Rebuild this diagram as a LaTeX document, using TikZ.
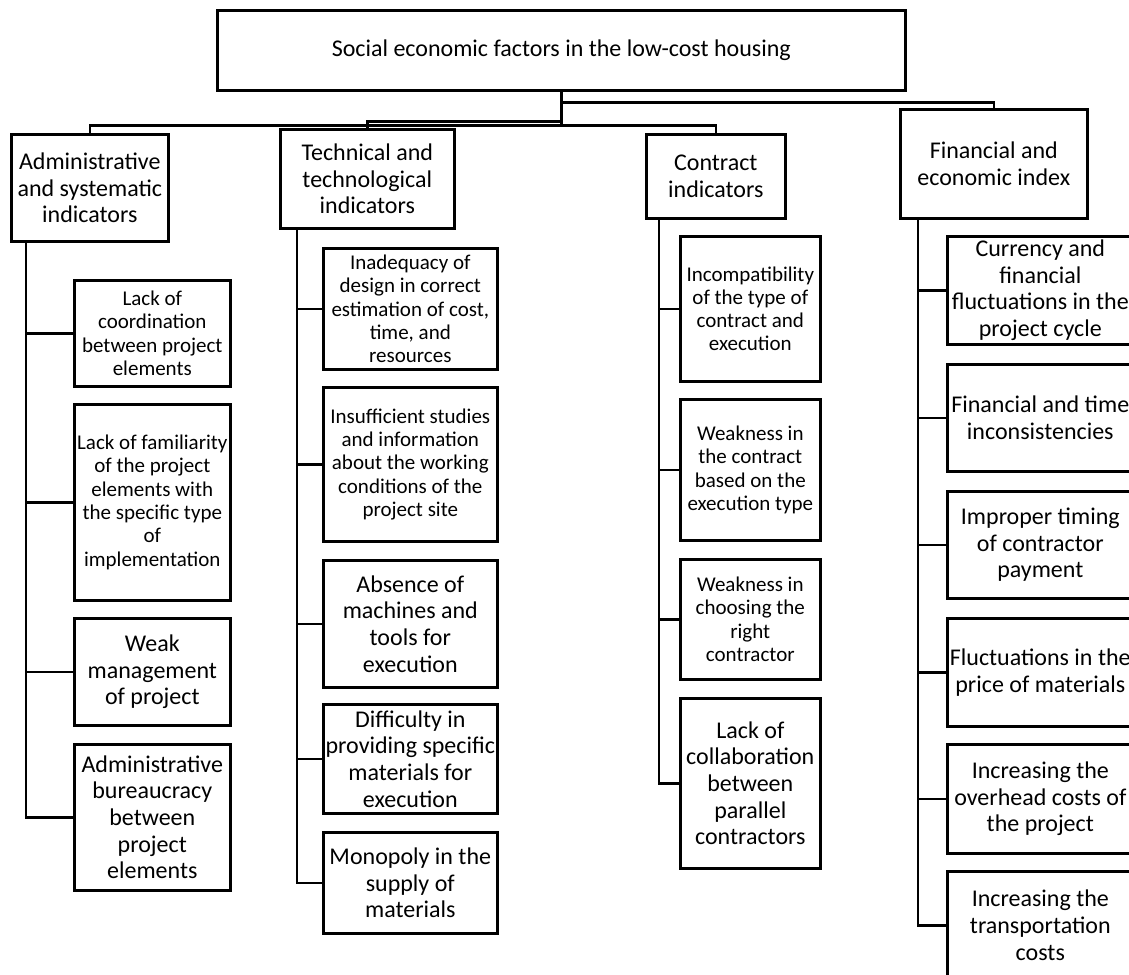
\documentclass[tikz,border=0pt]{standalone}
\usepackage{fontspec}
\setmainfont{Carlito}
\usetikzlibrary{positioning}
\tikzset{
  box/.style={rectangle, draw=black, line width=2.6pt, fill=white, align=center,
              inner sep=0pt, anchor=north west},
  fa/.style={font=\fontsize{21}{23.3}\selectfont},
  fb/.style={font=\fontsize{24}{26.7}\selectfont},
  admc/.style={box, minimum width=156pt},
  tecc/.style={box, minimum width=174pt},
  conc/.style={box, minimum width=140pt},
  finc/.style={box, minimum width=186pt, fb},
  link/.style={line width=2.6pt},
}

\begin{document}
\begin{tikzpicture}[x=1pt,y=-1pt]
\useasboundingbox (0,0) rectangle (1129,974);

% ===================== ROOT =====================
\node[box, fb, minimum width=688pt, minimum height=80pt] (root) at (216,9)
  {Social economic factors in the low-cost housing};

% ===================== HEADERS =====================
\node[box, fb, minimum width=157pt, minimum height=107pt] (adm) at (10,133)
  {Administrative\\and systematic\\indicators};
\node[box, fb, minimum width=174pt, minimum height=99pt] (tec) at (279,128)
  {Technical and\\technological\\indicators};
\node[box, fb, minimum width=139pt, minimum height=84pt] (con) at (645,133)
  {Contract\\indicators};
\node[box, fb, minimum width=187pt, minimum height=109pt] (fin) at (899,108)
  {Financial and\\economic index};

\draw[link] (root.south) -- ++(0,11) -| (fin.north);
\draw[link] (root.south) -- ++(0,34) -| (con.north);
\draw[link] (root.south) -- ++(0,34) -| (adm.north);
\draw[link] (root.south) -- ++(0,30) -| (tec.north);

% ===================== ADMINISTRATIVE =====================
\node[admc, fa, minimum height=106pt] (a1) at (73,279)
  {Lack of\\coordination\\between project\\elements};
\node[admc, fa, minimum height=196pt] (a2) at (73,403)
  {Lack of familiarity\\of the project\\elements with\\the specific type\\of\\implementation};
\node[admc, fb, minimum height=107pt] (a3) at (73,617)
  {Weak\\management\\of project};
\node[admc, fb, minimum height=146pt] (a4) at (73,743)
  {Administrative\\bureaucracy\\between\\project\\elements};

\foreach \c in {a1,a2,a3,a4}
  \draw[link] ([xshift=16pt]adm.south west) |- (\c.west);

% ===================== TECHNICAL =====================
\node[tecc, fa, minimum height=121pt] (t1) at (322,247)
  {Inadequacy of\\design in correct\\estimation of cost,\\time, and\\resources};
\node[tecc, fa, minimum height=154pt] (t2) at (322,386)
  {Insufficient studies\\and information\\about the working\\conditions of the\\project site};
\node[tecc, fb, minimum height=127pt] (t3) at (322,559)
  {Absence of\\machines and\\tools for\\execution};
\node[tecc, fb, minimum height=109pt] (t4) at (322,703)
  {Difficulty in\\providing specific\\materials for\\execution};
\node[tecc, fb, minimum height=101pt] (t5) at (322,831)
  {Monopoly in the\\supply of\\materials};

\foreach \c in {t1,t2,t3,t4,t5}
  \draw[link] ([xshift=18pt]tec.south west) |- (\c.west);

% ===================== CONTRACT =====================
\node[conc, fa, minimum height=145pt] (c1) at (679,235)
  {Incompatibility\\of the type of\\contract and\\execution};
\node[conc, fa, minimum height=141pt] (c2) at (679,398)
  {Weakness in\\the contract\\based on the\\execution type};
\node[conc, fa, minimum height=120pt] (c3) at (679,558)
  {Weakness in\\choosing the\\right\\contractor};
\node[conc, fb, minimum height=170pt] (c4) at (679,697)
  {Lack of\\collaboration\\between\\parallel\\contractors};

\foreach \c in {c1,c2,c3,c4}
  \draw[link] ([xshift=14pt]con.south west) |- (\c.west);

% ===================== FINANCIAL =====================
\node[finc, minimum height=108pt] (f1) at (946,235)
  {Currency and\\financial\\fluctuations in the\\project cycle};
\node[finc, minimum height=107pt] (f2) at (946,363)
  {Financial and time\\inconsistencies};
\node[finc, minimum height=107pt] (f3) at (946,490)
  {Improper timing\\of contractor\\payment};
\node[finc, minimum height=108pt] (f4) at (946,617)
  {Fluctuations in the\\price of materials};
\node[finc, minimum height=109pt] (f5) at (946,743)
  {Increasing the\\overhead costs of\\the project};
\node[finc, minimum height=108pt] (f6) at (946,870)
  {Increasing the\\transportation\\costs};

\foreach \c in {f1,f2,f3,f4,f5,f6}
  \draw[link] ([xshift=19pt]fin.south west) |- (\c.west);

\end{tikzpicture}
\end{document}
